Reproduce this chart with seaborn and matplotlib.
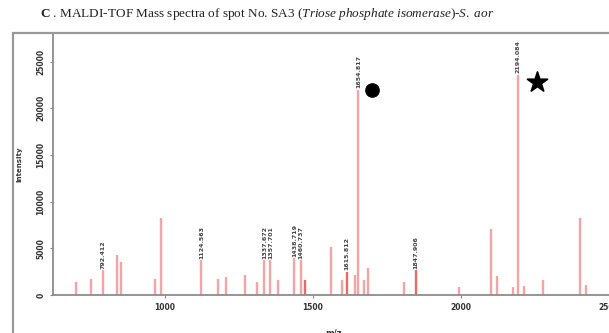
import matplotlib
matplotlib.use("Agg")
import matplotlib.pyplot as plt
import numpy as np
import pandas as pd
import seaborn as sns
from matplotlib.patches import Rectangle

# ---------------- data ----------------
mz = [702, 750, 792, 839, 852, 966, 986, 1124, 1179, 1208, 1272, 1311,
      1337, 1357, 1381, 1438, 1460, 1474, 1563, 1597, 1615, 1643, 1654,
      1673, 1688, 1808, 1847, 1993, 2103, 2123, 2176, 2194, 2212, 2276,
      2403, 2424]
intensity = [1420, 1710, 2680, 4290, 3570, 1710, 8250, 3750, 1710, 1960,
             2140, 1420, 3750, 3750, 1610, 3970, 3750, 1610, 5180, 1610,
             2500, 2140, 22000, 1610, 2860, 1420, 2680, 860, 7040, 2040,
             860, 23600, 960, 1610, 8220, 1070]
strong_peaks = [1474, 1615, 1847]          # drawn in a deeper red
label_mz = [792, 1124, 1337, 1357, 1438, 1460, 1615, 1654, 1847, 2194]
label_text = ["792.412", "1124.563", "1337.672", "1357.701", "1438.719",
              "1460.737", "1615.812", "1654.817", "1847.906", "2194.084"]
circle_mark = (1699, 21980)
star_mark = (2256, 22830)
xticks = [1000, 1500, 2000, 2500]
yticks = [0, 5000, 10000, 15000, 20000, 25000]
title_text = (r"$\mathbf{C}$ . MALDI-TOF Mass spectra of spot No. SA3 "
              r"($\mathit{Triose\ phosphate\ isomerase}$)-$\mathit{S.\ aor}$")
xlabel = "m/z"
ylabel = "Intensity"

df = pd.DataFrame({"mz": mz, "intensity": intensity})
df["kind"] = np.where(df["mz"].isin(strong_peaks), "strong", "normal")

# ---------------- style ----------------
sns.set_theme(style="white")
plt.rcParams["font.family"] = ["DejaVu Sans"]
plt.rcParams["mathtext.fontset"] = "custom"
plt.rcParams["mathtext.rm"] = "Liberation Serif"
plt.rcParams["mathtext.it"] = "Liberation Serif:italic"
plt.rcParams["mathtext.bf"] = "Liberation Serif:bold"

W, H = 609, 333
fig = plt.figure(figsize=(W / 100, H / 100), dpi=100)
fig.patch.set_facecolor("white")

# outer frame
fig.patches.append(Rectangle((13 / W, -0.1), 1.2, 1 - 33 / H + 0.1,
                             transform=fig.transFigure, fill=False,
                             edgecolor="#9a9a9a", linewidth=1.6, zorder=0))

ax = fig.add_axes([53 / W, 1 - 295 / H, 1 - 53 / W, (295 - 33) / H])
ax.set_facecolor("none")

colors = {"normal": "#f4a4a4", "strong": "#e86a66"}
for kind, sub in df.groupby("kind"):
    ax.vlines(sub["mz"], 0, sub["intensity"], colors=colors[kind],
              linewidth=1.7, zorder=2)

# peak labels
lab = df.set_index("mz").loc[label_mz, "intensity"].values
for x, y, t in zip(label_mz, lab, label_text):
    ax.text(x, y + 150, t, rotation=90, ha="center", va="bottom",
            fontsize=4.5, color="#444444", fontweight="bold", zorder=3)

# markers
sns.scatterplot(x=[circle_mark[0]], y=[circle_mark[1]], marker="o",
                s=95, color="black", edgecolor="black", ax=ax, zorder=4)
sns.scatterplot(x=[star_mark[0]], y=[star_mark[1]], marker="*",
                s=230, color="black", edgecolor="black", ax=ax, zorder=4)

ax.set_xlim(623, 2495)
ax.set_ylim(0, 28075)
ax.set_xticks(xticks)
ax.set_xticklabels([str(v) for v in xticks], fontsize=5.5,
                   fontweight="bold", color="#333333")
ax.set_yticks(yticks)
ax.set_yticklabels([str(v) for v in yticks], fontsize=5.5, rotation=90,
                   va="center", fontweight="bold", color="#333333")
ax.tick_params(axis="both", length=2.5, width=0.8, color="#888888",
               direction="out", pad=3, bottom=True, left=True)
for s in ["top", "right"]:
    ax.spines[s].set_visible(False)
for s in ["left", "bottom"]:
    ax.spines[s].set_color("#8c8c8c")
    ax.spines[s].set_linewidth(1.3)

ax.set_xlabel(xlabel, fontsize=6, fontweight="bold", color="#333333")
ax.xaxis.set_label_coords((333 - 53) / (W - 53), -(329 - 295) / (295 - 33))
ax.set_ylabel(ylabel, fontsize=5, fontweight="bold", color="#333333")
ax.yaxis.set_label_coords(-(53 - 22) / (W - 53), 0.5)

fig.text(267 / W, 1 - 14 / H, title_text, ha="center", va="center",
         fontsize=9.5, color="#222222", family="Liberation Serif")

fig.savefig("out.png", dpi=100)
